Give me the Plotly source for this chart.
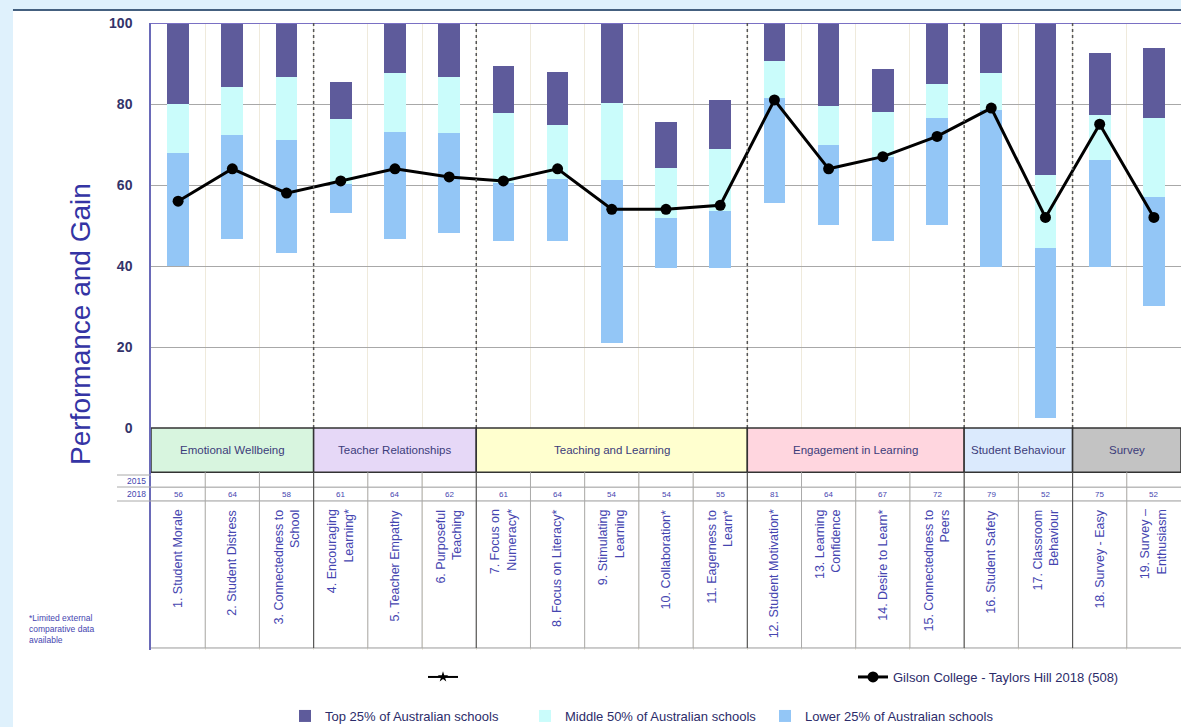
import plotly.graph_objects as go

# ---------------- data ----------------
categories = [
    "1. Student Morale", "2. Student Distress", "3. Connectedness to<br>School",
    "4. Encouraging<br>Learning*", "5. Teacher Empathy", "6. Purposeful<br>Teaching",
    "7. Focus on<br>Numeracy*", "8. Focus on Literacy*", "9. Stimulating<br>Learning",
    "10. Collaboration*", "11. Eagerness to<br>Learn*", "12. Student Motivation*",
    "13. Learning<br>Confidence", "14. Desire to Learn*", "15. Connectedness to<br>Peers",
    "16. Student Safety", "17. Classroom<br>Behaviour", "18. Survey - Easy",
    "19. Survey –<br>Enthusiasm",
]
lower_min = [40, 46.7, 43.2, 53.1, 46.7, 48.1, 46.2, 46.2, 21, 39.5, 39.5, 55.5, 50.1, 46.2, 50.1, 39.8, 2.5, 39.8, 30.1]
q1_vals   = [67.9, 72.3, 71.1, 60.3, 73.1, 72.8, 60.5, 61.5, 61.2, 51.8, 53.5, 81.5, 69.9, 67, 76.5, 78.5, 44.4, 66.2, 57]
q3_vals   = [80, 84.2, 86.7, 76.3, 87.7, 86.7, 77.8, 74.8, 80.2, 64.2, 68.9, 90.6, 79.5, 78, 84.9, 87.6, 62.5, 77.3, 76.5]
top_max   = [100, 100, 100, 85.5, 100, 100, 89.4, 88, 100, 75.6, 81, 100, 100, 88.6, 100, 100, 100, 92.6, 93.8]
scores_2018 = [56, 64, 58, 61, 64, 62, 61, 64, 54, 54, 55, 81, 64, 67, 72, 79, 52, 75, 52]
scores_2015 = [None] * 19
groups = [
    ("Emotional Wellbeing", 0, 2, "#d8f5df"),
    ("Teacher Relationships", 3, 5, "#e6d8f7"),
    ("Teaching and Learning", 6, 10, "#ffffcf"),
    ("Engagement in Learning", 11, 14, "#ffd6df"),
    ("Student Behaviour", 15, 16, "#dbeafd"),
    ("Survey", 17, 18, "#c3c3c3"),
]
y_ticks = [0, 20, 40, 60, 80, 100]

# ---------------- styling ----------------
FONT = "Arial, Liberation Sans, sans-serif"
TXT = "#4545b0"
xs = list(range(len(categories)))

fig = go.Figure()
fig.add_trace(go.Bar(x=xs, y=[t - q for t, q in zip(top_max, q3_vals)], base=q3_vals,
                     marker=dict(color="#5e5b9b", line=dict(width=0)), width=0.4,
                     name="Top 25% of Australian schools", legend="legend"))
fig.add_trace(go.Bar(x=xs, y=[a - b for a, b in zip(q3_vals, q1_vals)], base=q1_vals,
                     marker=dict(color="#cafcfb", line=dict(width=0)), width=0.4,
                     name="Middle 50% of Australian schools", legend="legend"))
fig.add_trace(go.Bar(x=xs, y=[a - b for a, b in zip(q1_vals, lower_min)], base=lower_min,
                     marker=dict(color="#93c6f6", line=dict(width=0)), width=0.4,
                     name="Lower 25% of Australian schools", legend="legend"))
fig.add_trace(go.Scatter(x=xs, y=scores_2015, mode="lines+markers", name=" ",
                         line=dict(color="#000", width=2),
                         marker=dict(symbol="star", size=8, color="#000"), legend="legend2"))
fig.add_trace(go.Scatter(x=xs, y=scores_2018, mode="lines+markers",
                         name="Gilson College - Taylors Hill 2018 (508)",
                         line=dict(color="#000", width=3),
                         marker=dict(symbol="circle", size=11, color="#000"), legend="legend2"))

shapes = []
# page panel
shapes.append(dict(type="rect", xref="paper", yref="paper", x0=-0.134, x1=1.02, y0=-0.13, y1=1.0207,
                   fillcolor="white", line=dict(width=0), layer="below"))
shapes.append(dict(type="line", xref="paper", yref="paper", x0=-0.134, x1=1.02, y0=1.0207, y1=1.0207,
                   line=dict(color="#44607f", width=2)))
# top border at 100
shapes.append(dict(type="line", xref="x", yref="y", x0=-0.5, x1=18.5, y0=100, y1=100,
                   line=dict(color="#7a70c4", width=2)))
# group separators (dotted) in chart
for _, s, e, _c in groups[:-1]:
    shapes.append(dict(type="line", xref="x", yref="y", x0=e + 0.5, x1=e + 0.5, y0=0, y1=100,
                       line=dict(color="#555", width=1.5, dash="dot")))
# bands
for name, s, e, col in groups:
    shapes.append(dict(type="rect", xref="x", yref="y", x0=s - 0.5, x1=e + 0.5, y0=-10.9, y1=0,
                       fillcolor=col, line=dict(color="#333", width=1.5)))
# table rows
for yv in [-14.6, -18.0, -54.3]:
    shapes.append(dict(type="line", xref="x", yref="y", x0=-0.5, x1=18.5, y0=yv, y1=yv,
                       line=dict(color="#999", width=1)))
for i in range(1, 19):
    b = i - 0.5
    dark = any(e + 0.5 == b for _, s, e, _c in groups)
    shapes.append(dict(type="line", xref="x", yref="y", x0=b, x1=b, y0=-10.9, y1=-54.3,
                       line=dict(color="#555" if dark else "#aaa", width=1.2 if dark else 1)))
# left header cells
for yp in [(650 - 475) / 627, (650 - 487) / 627, (650 - 501) / 627]:
    shapes.append(dict(type="line", xref="paper", yref="paper", x0=-0.033, x1=0, y0=yp, y1=yp,
                       line=dict(color="#aaa", width=1)))

annotations = []
for name, s, e, col in groups:
    annotations.append(dict(x=(s + e) / 2, y=-5.4, xref="x", yref="y", text=name, showarrow=False,
                            font=dict(family=FONT, size=11.5, color="#3c3c7a")))
for i, (lab, v) in enumerate(zip(categories, scores_2018)):
    annotations.append(dict(x=i, y=-16.3, xref="x", yref="y", text=str(v), showarrow=False,
                            yanchor="middle", font=dict(family=FONT, size=8, color=TXT)))
    annotations.append(dict(x=i, y=-19.6, xref="x", yref="y", text=lab, showarrow=False,
                            textangle=-90, yanchor="top", align="right",
                            font=dict(family=FONT, size=12.5, color=TXT)))
annotations.append(dict(x=-0.0025, y=(650 - 481) / 627, xref="paper", yref="paper", text="2015",
                        showarrow=False, xanchor="right", yanchor="middle",
                        font=dict(family=FONT, size=8.5, color=TXT)))
annotations.append(dict(x=-0.0025, y=(650 - 494) / 627, xref="paper", yref="paper", text="2018",
                        showarrow=False, xanchor="right", yanchor="middle",
                        font=dict(family=FONT, size=8.5, color=TXT)))
annotations.append(dict(x=-0.069, y=(650 - 324) / 627, xref="paper", yref="paper",
                        text="Performance and Gain", showarrow=False, textangle=-90,
                        xanchor="center", yanchor="middle",
                        font=dict(family=FONT, size=28, color="#3434a4")))
annotations.append(dict(x=(27 - 151) / 1030, y=(650 - 629) / 627, xref="paper", yref="paper",
                        text="*Limited external<br>comparative data<br>available", showarrow=False,
                        xanchor="left", yanchor="middle", align="left",
                        font=dict(family=FONT, size=8.5, color=TXT)))

fig.update_layout(
    width=1181, height=727,
    margin=dict(l=151, r=0, t=23, b=77),
    paper_bgcolor="#dff1fc", plot_bgcolor="white",
    barmode="overlay", bargap=0,
    font=dict(family=FONT),
    shapes=shapes, annotations=annotations,
    xaxis=dict(range=[-0.5, 18.5], tickvals=[i + 0.5 for i in range(18)], showticklabels=False,
               showgrid=True, gridcolor="#efeadc", gridwidth=1, zeroline=False, ticks=""),
    yaxis=dict(range=[-54.8, 100], tickvals=y_ticks, ticktext=[str(t) for t in y_ticks],
               showgrid=True, gridcolor="#a8a8a8", gridwidth=1, zeroline=False,
               showline=True, linecolor="#6a6ab8", linewidth=1.5, ticks="",
               ticklabelstandoff=14,
               tickfont=dict(family=FONT, size=14, color="#33336a", weight="bold")),
    legend=dict(orientation="h", x=285 / 1181, xref="container", y=(727 - 716) / 727, yref="container",
                yanchor="middle", xanchor="left", bgcolor="rgba(0,0,0,0)",
                entrywidth=195, entrywidthmode="pixels", traceorder="normal",
                font=dict(family=FONT, size=13, color="#2c2c6a")),
    legend2=dict(orientation="h", x=423 / 1181, xref="container", y=(727 - 677) / 727, yref="container",
                 yanchor="middle", xanchor="left", bgcolor="rgba(0,0,0,0)",
                 entrywidth=385, entrywidthmode="pixels", traceorder="normal",
                 font=dict(family=FONT, size=13, color="#2c2c6a")),
)

fig.write_html("out.html", config={"displayModeBar": False},
               post_script="document.body.style.margin='0px';document.body.style.overflow='hidden';")
